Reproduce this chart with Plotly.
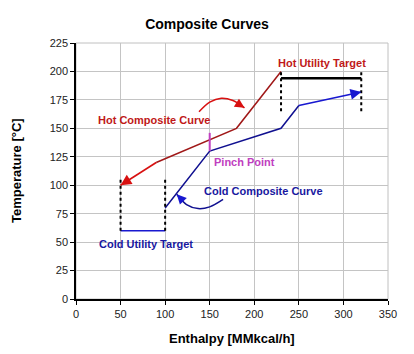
import plotly.graph_objects as go

# ---- data ----
hot_h = [230, 180, 90, 50]
hot_t = [200, 150, 120, 100]
cold_h = [100, 150, 230, 250, 320]
cold_t = [80, 130, 150, 170, 182]
cold_util_h = [50, 100]
cold_util_t = [60, 60]
hot_util_h = [230, 320]
hot_util_t = [194, 194]
cold_util_marks_h = [50, 100]
cold_util_marks_t = [60, 105]
hot_util_marks_h = [230, 320]
hot_util_marks_t = [165, 200]
pinch_h = 150
pinch_t = [130, 146]
hot_curl_h = [138, 150, 163, 176, 189]
hot_curl_t = [164.5, 173, 176.5, 174.5, 168]
cold_curl_h = [165, 150, 137, 124, 113]
cold_curl_t = [87.5, 81, 79.5, 83, 92]
x_ticks = [0, 50, 100, 150, 200, 250, 300, 350]
y_ticks = [0, 25, 50, 75, 100, 125, 150, 175, 200, 225]

HOT = "#A01818"
HOT_ARROW = "#D81010"
HOT_TXT = "#C01818"
COLD = "#101090"
COLD_ARROW = "#1818D0"
COLD_TXT = "#1818A0"
PINCH = "#C040C0"
FONT = "Arial, Liberation Sans, sans-serif"

# pixel scale of the plot area (for arrowhead tail offsets)
PX_X = 311.4 / 350
PX_Y = 255.7 / 225

fig = go.Figure()

def line(x, y, color, width=1.5, dash="solid", shape="linear"):
    fig.add_trace(go.Scatter(x=x, y=y, mode="lines",
                             line=dict(color=color, width=width, dash=dash, shape=shape),
                             showlegend=False, hoverinfo="skip"))

# curves
line(hot_h[:-1], hot_t[:-1], HOT)
line(hot_h[-2:], hot_t[-2:], HOT_ARROW, 1.6)
line(cold_h[:-1], cold_t[:-1], COLD)
line(cold_h[-2:], cold_t[-2:], COLD_ARROW, 1.6)
# utility targets
line(cold_util_h, cold_util_t, COLD_ARROW, 1.5)
line(hot_util_h, hot_util_t, "black", 2.5)
for h in cold_util_marks_h:
    line([h, h], cold_util_marks_t, "black", 2, "dot")
for h in hot_util_marks_h:
    line([h, h], hot_util_marks_t, "black", 2, "dot")
# pinch
line([pinch_h, pinch_h], pinch_t, PINCH, 2)
# curly arrows
line(hot_curl_h, hot_curl_t, HOT_ARROW, 1.5, shape="spline")
line(cold_curl_h, cold_curl_t, COLD, 1.5, shape="spline")

def arrow(x, y, fx, fy, color, size=1.3):
    # arrowhead at (x, y) pointing away from (fx, fy); tail offset in pixels
    dx = (fx - x) * PX_X
    dy = -(fy - y) * PX_Y
    n = (dx * dx + dy * dy) ** 0.5
    fig.add_annotation(x=x, y=y, xref="x", yref="y",
                       ax=dx / n * 10, ay=dy / n * 10,
                       text="", showarrow=True, arrowhead=2, arrowsize=size,
                       arrowwidth=1.6, arrowcolor=color, standoff=0)

arrow(hot_h[-1], hot_t[-1], hot_h[-2], hot_t[-2], HOT_ARROW, 1.35)
arrow(cold_h[-1], cold_t[-1], cold_h[-2], cold_t[-2], COLD_ARROW, 1.35)
arrow(hot_curl_h[-1], hot_curl_t[-1], hot_curl_h[-2], hot_curl_t[-2], HOT_ARROW, 1.2)
arrow(cold_curl_h[-1], cold_curl_t[-1], cold_curl_h[-2], cold_curl_t[-2], COLD_ARROW, 1.2)

def label(text, x, y, color):
    fig.add_annotation(x=x, y=y, xref="x", yref="y", text="<b>" + text + "</b>",
                       showarrow=False, font=dict(family=FONT, size=11, color=color),
                       xanchor="center", yanchor="middle")

label("Hot Composite Curve", 88, 157.5, HOT_TXT)
label("Hot Utility Target", 276, 207, HOT_TXT)
label("Cold Composite Curve", 210, 95, COLD_TXT)
label("Cold Utility Target", 79, 48, COLD_TXT)
fig.add_annotation(x=153, y=120, xref="x", yref="y", text="<b>Pinch Point</b>",
                   showarrow=False, font=dict(family=FONT, size=11, color=PINCH),
                   xanchor="left", yanchor="middle")

# axis titles
fig.add_annotation(x=0.5, y=-0.154, xref="paper", yref="paper",
                   text="<b>Enthalpy [MMkcal/h]</b>", showarrow=False,
                   font=dict(family=FONT, size=13, color="black"),
                   xanchor="center", yanchor="middle")
fig.add_annotation(x=-0.19, y=0.503, xref="paper", yref="paper",
                   text="<b>Temperature [°C]</b>", showarrow=False, textangle=-90,
                   font=dict(family=FONT, size=13, color="black"),
                   xanchor="center", yanchor="middle")

# plot border (top/right)
fig.add_shape(type="rect", xref="paper", yref="paper", x0=0, y0=0, x1=1, y1=1,
              line=dict(color="#C0C0C0", width=1), layer="below")

axis_common = dict(showgrid=True, gridcolor="#C4C4C4", gridwidth=1,
                   showline=True, linecolor="black", linewidth=1.5,
                   ticks="outside", ticklen=4, tickcolor="black",
                   tickfont=dict(family=FONT, size=11, color="#222222"),
                   zeroline=False, fixedrange=True)

fig.update_xaxes(range=[0, 350], tickvals=x_ticks, **axis_common)
fig.update_yaxes(range=[0, 225], tickvals=y_ticks, **axis_common)

fig.update_layout(
    width=414, height=354,
    margin=dict(l=76, r=26, t=43, b=55),
    paper_bgcolor="white", plot_bgcolor="white",
    title=dict(text="<b>Composite Curves</b>", x=0.5, xanchor="center",
               y=1 - 24 / 354, yanchor="middle", yref="container",
               font=dict(family=FONT, size=14, color="black")),
    showlegend=False,
)

fig.write_html("out.html")
